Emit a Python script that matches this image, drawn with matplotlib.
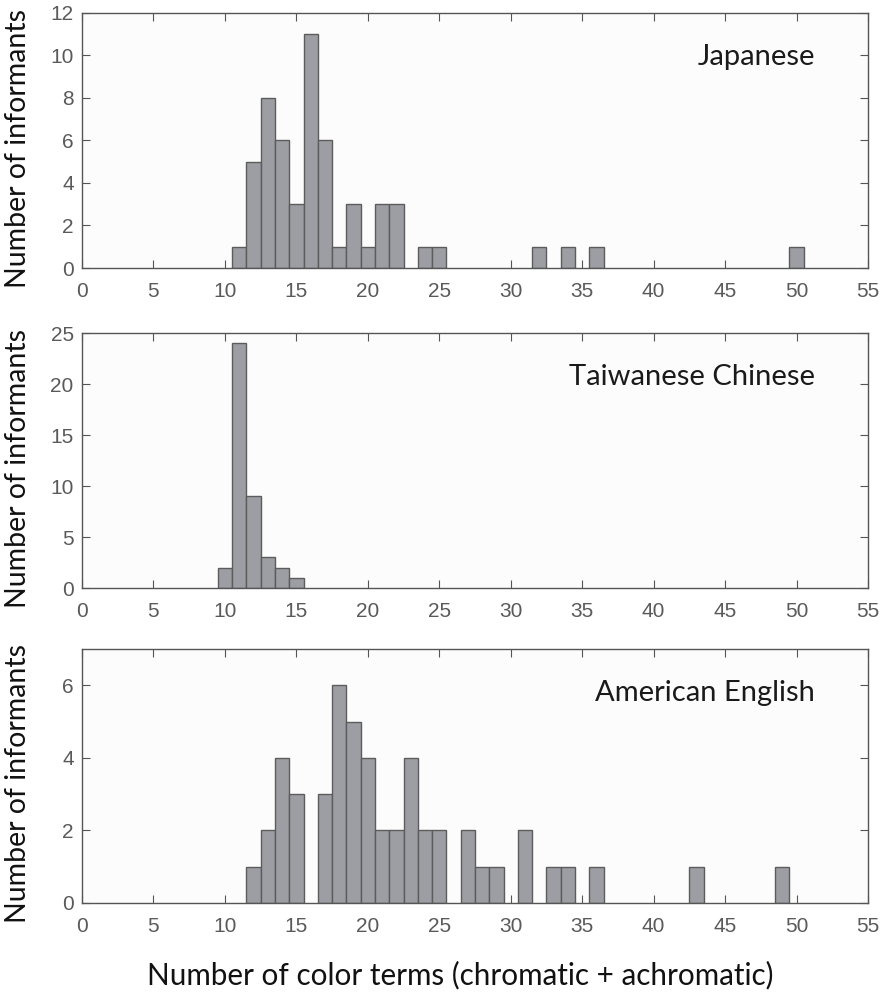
import matplotlib
matplotlib.use("Agg")
import matplotlib.pyplot as plt
import numpy as np

# Data: number of color terms (bin centres) and counts of informants
jp_terms = [11, 12, 13, 14, 15, 16, 17, 18, 19, 20, 21, 22, 24, 25, 32, 34, 36, 50]
jp_counts = [1, 5, 8, 6, 3, 11, 6, 1, 3, 1, 3, 3, 1, 1, 1, 1, 1, 1]

tw_terms = [10, 11, 12, 13, 14, 15]
tw_counts = [2, 24, 9, 3, 2, 1]

us_terms = [12, 13, 14, 15, 17, 18, 19, 20, 21, 22, 23, 24, 25, 27, 28, 29, 31, 33, 34, 36, 43, 49]
us_counts = [1, 2, 4, 3, 3, 6, 5, 4, 2, 2, 4, 2, 2, 2, 1, 1, 2, 1, 1, 1, 1, 1]

panel_names = ["Japanese", "Taiwanese Chinese", "American English"]
ylims = [12, 25, 7]
yticks = [[0, 2, 4, 6, 8, 10, 12], [0, 5, 10, 15, 20, 25], [0, 2, 4, 6]]
xticks = list(range(0, 56, 5))
xlabel = "Number of color terms (chromatic + achromatic)"
ylabel = "Number of informants"

series = [(jp_terms, jp_counts), (tw_terms, tw_counts), (us_terms, us_counts)]

W, H = 887, 997
fig = plt.figure(figsize=(W / 100, H / 100), dpi=100)
fig.patch.set_facecolor("white")

left, right = 82, 868
boxes = [(13, 268), (333, 588), (649, 903)]
label_font = ["Lato", "DejaVu Sans"]
tick_font = ["Liberation Sans", "DejaVu Sans"]

for (top, bot), (terms, counts), name, ylim, yt in zip(boxes, series, panel_names, ylims, yticks):
    ax = fig.add_axes([left / W, 1 - bot / H, (right - left) / W, (bot - top) / H])
    ax.set_facecolor("#fcfcfc")
    ax.bar(terms, counts, width=1.0, color="#9d9ea3", edgecolor="#5c5c5c", linewidth=1.0, zorder=2)
    ax.set_xlim(0, 55)
    ax.set_ylim(0, ylim)
    ax.set_xticks(xticks)
    ax.set_yticks(yt)
    ax.tick_params(direction="in", length=6, width=0.8, color="#555555",
                   top=True, right=True, labelsize=15, labelcolor="#5a5a5a")
    ax.tick_params(axis="x", pad=10)
    ax.tick_params(axis="y", pad=6)
    for lab in ax.get_xticklabels() + ax.get_yticklabels():
        lab.set_family(tick_font)
    for s in ax.spines.values():
        s.set_color("#555555")
        s.set_linewidth(1.0)
    ax.text(0.933, 0.827, name, transform=ax.transAxes, ha="right", va="center",
            fontsize=21, family=label_font, color="#1a1a1a")
    ax.set_ylabel(ylabel, fontsize=20.5, family=label_font, color="#111111")
    ax.yaxis.set_label_coords((31 - left) / (right - left), 0.47)

fig.text(0.5 * (148 + 772) / W, 1 - 975 / H, xlabel, ha="center", va="center",
         fontsize=21.3, family=label_font, color="#111111")

fig.savefig("out.png", dpi=100)
